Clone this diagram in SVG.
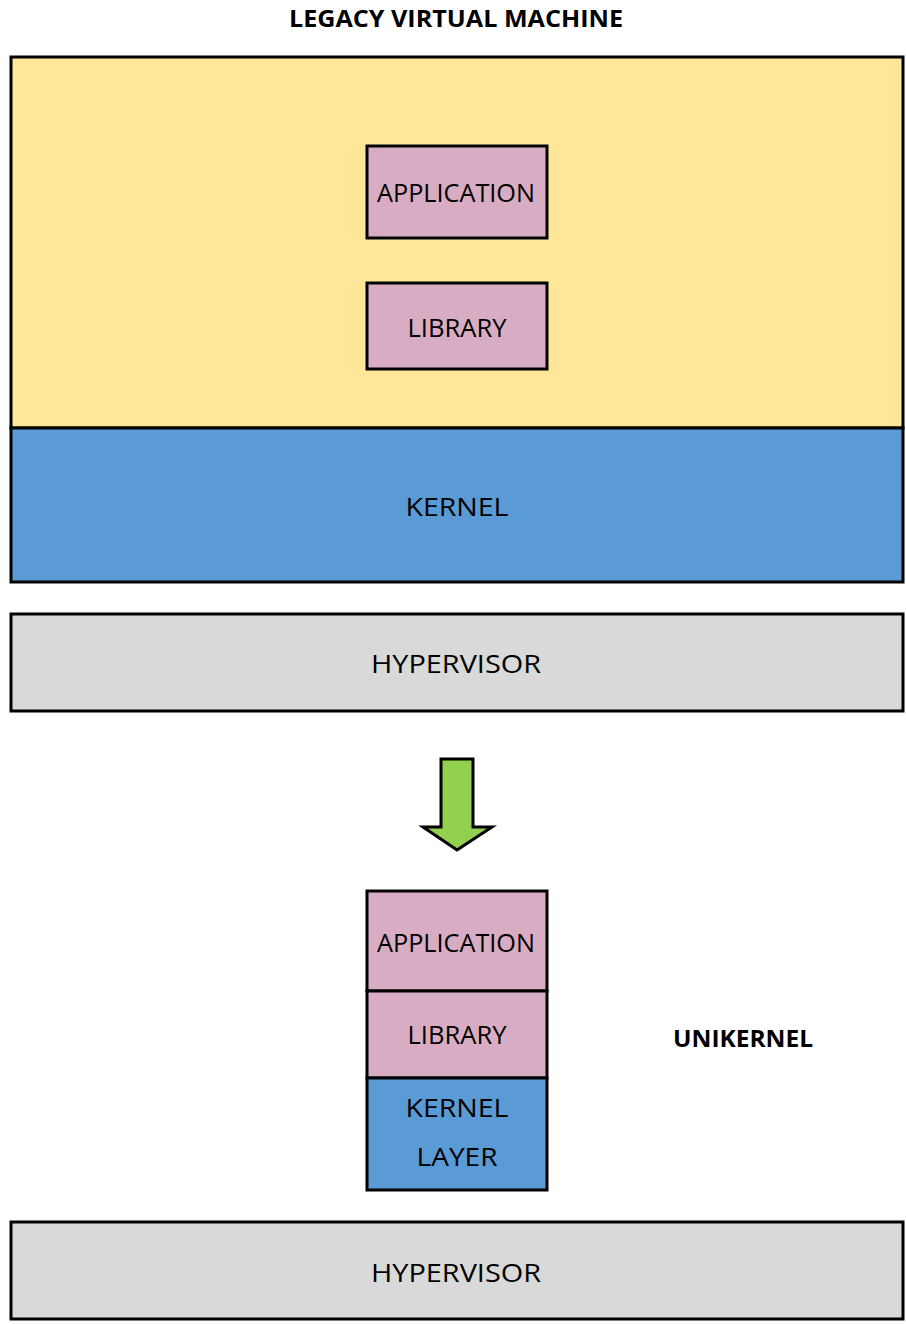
<svg xmlns="http://www.w3.org/2000/svg" width="906" height="1324" viewBox="0 0 906 1324">
<style>
.box{stroke:#000;stroke-width:3}
.yel{fill:#FFE699}
.blu{fill:#5B9BD5}
.pnk{fill:#D8ADC3}
.gry{fill:#D9D9D9}
.t{font-family:"Open Sans","Liberation Sans",sans-serif;font-size:26px;fill:#000;text-anchor:middle}
.b{font-family:"Open Sans","Liberation Sans",sans-serif;font-size:24px;font-weight:bold;fill:#000;text-anchor:middle}
</style>
<rect width="906" height="1324" fill="#fff"/>
<g id="title"><text class="b" x="456" y="27" textLength="334" lengthAdjust="spacingAndGlyphs">LEGACY VIRTUAL MACHINE</text></g>
<g id="legacy-vm">
<rect class="box yel" x="11" y="57" width="892" height="371"/>
</g>
<g id="kernel">
<rect class="box blu" x="11" y="428" width="892" height="154"/>
<text class="t" x="457" y="516" textLength="103" lengthAdjust="spacingAndGlyphs">KERNEL</text>
</g>
<g id="application1">
<rect class="box pnk" x="367" y="146" width="180" height="92"/>
<text class="t" x="456" y="202" textLength="158" lengthAdjust="spacingAndGlyphs">APPLICATION</text>
</g>
<g id="library1">
<rect class="box pnk" x="367" y="283" width="180" height="86"/>
<text class="t" x="457" y="337" textLength="99" lengthAdjust="spacingAndGlyphs">LIBRARY</text>
</g>
<g id="hypervisor1">
<rect class="box gry" x="11" y="614" width="892" height="97"/>
<text class="t" x="456" y="673" textLength="170" lengthAdjust="spacingAndGlyphs">HYPERVISOR</text>
</g>
<g id="connectors">
<polygon points="441,759 473,759 473,827 492,827 457,850 423,827 441,827" fill="#92D050" stroke="#000" stroke-width="3" stroke-linejoin="miter"/>
</g>
<g id="application2">
<rect class="box pnk" x="367" y="891" width="180" height="100"/>
<text class="t" x="456" y="952" textLength="158" lengthAdjust="spacingAndGlyphs">APPLICATION</text>
</g>
<g id="library2">
<rect class="box pnk" x="367" y="991" width="180" height="87"/>
<text class="t" x="457" y="1044" textLength="99" lengthAdjust="spacingAndGlyphs">LIBRARY</text>
</g>
<g id="kernel-layer">
<rect class="box blu" x="367" y="1078" width="180" height="112"/>
<text class="t" x="457" y="1117" textLength="103" lengthAdjust="spacingAndGlyphs">KERNEL</text>
<text class="t" x="457" y="1166" textLength="81" lengthAdjust="spacingAndGlyphs">LAYER</text>
</g>
<g id="unikernel"><text class="b" x="743" y="1047" textLength="140" lengthAdjust="spacingAndGlyphs">UNIKERNEL</text></g>
<g id="hypervisor2">
<rect class="box gry" x="11" y="1222" width="892" height="97"/>
<text class="t" x="456" y="1282" textLength="170" lengthAdjust="spacingAndGlyphs">HYPERVISOR</text>
</g>
</svg>
